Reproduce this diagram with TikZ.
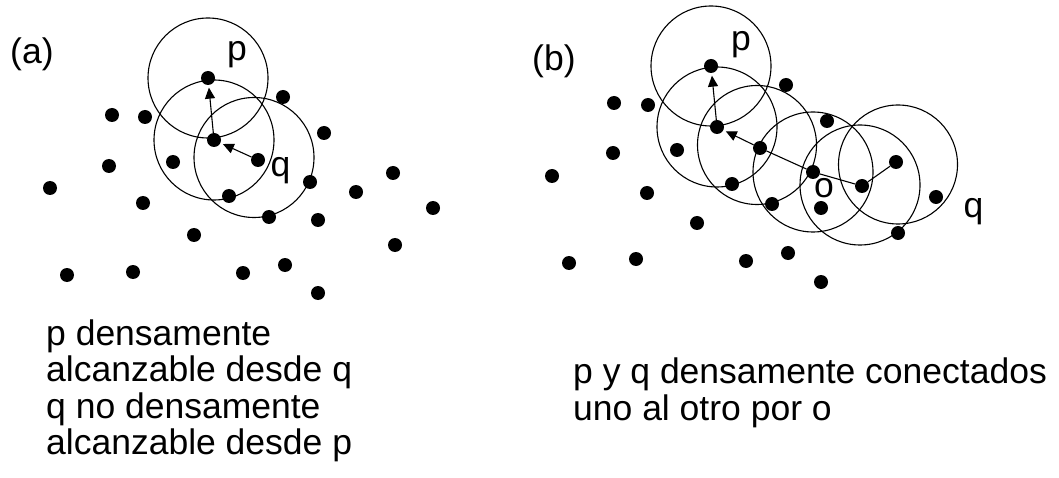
\documentclass[tikz,border=0pt]{standalone}
\usepackage{fontspec}
\setmainfont{Liberation Sans}
\usetikzlibrary{arrows.meta}
\begin{document}
\begin{tikzpicture}[x=1pt,y=-1pt,
  dot/.style={circle,fill=black,inner sep=0pt,minimum size=14pt},
  ring/.style={draw=black,line width=1.1pt},
  link/.style={draw=black,line width=1.1pt},
  arr/.style={link,-{Triangle[length=11pt,width=10pt]},shorten >=2.5pt},
  lbl/.style={anchor=base west,inner sep=0pt,font=\fontsize{35.5}{36.5}\selectfont},
  txt/.style={anchor=base west,inner sep=0pt,align=left,font=\fontsize{35.5}{36.5}\selectfont}
]
\useasboundingbox (0,0) rectangle (1059,478);
% ---------- panel (a) ----------
\node[lbl] (la) at (10,64) {(a)};
\node[dot] (ap) at (208,78) {};
\node[dot] (ac) at (214,140) {};
\node[dot] (aq) at (258,160) {};
\coordinate (aqc) at (254,157.5);
\draw[ring] (ap) circle[radius=60];
\draw[ring] (ac) circle[radius=60];
\draw[ring] (aqc) circle[radius=60];
\draw[arr] (ac) -- (ap);
\draw[arr] (aq) -- (ac);
\foreach \i/\x/\y in {1/283/97,2/112/115,3/145/117,4/324/133,5/109/166,6/173/162,
  7/50/188,8/310/182,9/393/173,10/356/192,11/433/208,12/143/203,13/229/196,
  14/269/217,15/318/220,16/194/235,17/395/245,18/67/275,19/133/272,20/243/273,
  21/285/265,22/318/293}
  \node[dot] (a\i) at (\x,\y) {};
\node[lbl] (lap) at (227,60.5) {p};
\node[lbl] (laq) at (270.5,176.5) {q};
\node[txt] (ta1) at (46,345) {p densamente};
\node[txt] (ta2) at (46,381.5) {alcanzable desde q};
\node[txt] (ta3) at (46,418) {q no densamente};
\node[txt] (ta4) at (46,454.5) {alcanzable desde p};
% ---------- panel (b) ----------
\node[lbl] (lb) at (532,71) {(b)};
\node[dot] (bp) at (711,66) {};
\node[dot] (b1) at (717,127) {};
\node[dot] (b2) at (760,148) {};
\node[dot] (bo) at (813,172) {};
\node[dot] (b3) at (862,186) {};
\node[dot] (b4) at (896,162) {};
\draw[ring] (bp) circle[radius=60];
\draw[ring] (b1) circle[radius=60];
\draw[ring] (757,145) circle[radius=59.5];
\draw[ring] (bo) circle[radius=60];
\draw[ring] (860,185) circle[radius=60];
\draw[ring] (898,164.5) circle[radius=59.5];
\draw[arr] (b1) -- (bp);
\draw[arr] (b2) -- (b1);
\draw[link] (b2) -- (bo);
\draw[link] (bo) -- (b3);
\draw[link] (b3) -- (b4);
\foreach \i/\x/\y in {1/786/85,2/614/103,3/648/105,4/613/153,5/677/150,6/552/176,
  7/827/121,8/647/193,9/732/184,10/772/204,11/821/208,12/936/197,13/898/233,
  14/697/223,15/569/263,16/636/259,17/746/261,18/788/253,19/821/282}
  \node[dot] (bd\i) at (\x,\y) {};
\node[lbl] (lbp) at (731,50.5) {p};
\node[lbl] (lbo) at (814,198) {o};
\node[lbl] (lbq) at (963.5,218) {q};
\node[txt] (tb1) at (573,383) {p y q densamente conectados};
\node[txt] (tb2) at (573,420) {uno al otro por o};
\end{tikzpicture}
\end{document}
